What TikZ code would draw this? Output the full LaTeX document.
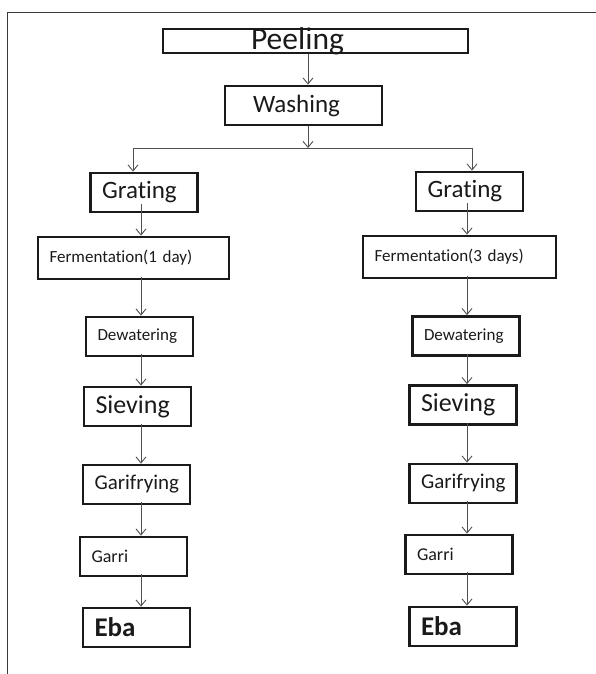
\documentclass[tikz,border=0pt]{standalone}
\usepackage{fontspec}
\setmainfont[Ligatures=NoCommon]{Carlito}
\usepackage{tikz}
\usetikzlibrary{arrows.meta,calc}
\definecolor{ink}{HTML}{1A1A1A}
\definecolor{inkgray}{HTML}{505050}
\definecolor{rulegray}{HTML}{3A3A3A}
\tikzset{
  stage/.style={
    draw=ink, line width=2.8pt, rectangle,
    inner xsep=11.5pt, inner ysep=0pt, minimum height=39pt,
    text width=84pt, align=left, text=ink,
    font=\fontsize{17}{19}\selectfont
  },
  flow/.style={draw=inkgray, line width=0.9pt, -{Straight Barb[length=6pt,width=10pt]}},
  link/.style={draw=inkgray, line width=0.9pt},
  frameline/.style={draw=rulegray, line width=1.3pt}
}

\begin{document}
\begin{tikzpicture}[x=1pt,y=-1pt]
  \useasboundingbox (0,0) rectangle (596,674);
  \draw[frameline] (596,12.5) -- (7.5,12.5) -- (7.5,674);

  % common trunk
  \node[draw=ink, line width=2.8pt, inner sep=0pt,
        minimum width=305pt, minimum height=24pt] (peel) at (315.5,41) {};
  \node[anchor=base, text=ink, font=\fontsize{31.5}{33}\selectfont] (peeltxt) at (297.5,50) {Peeling};
  \node[stage, text width=101pt, inner xsep=28pt, font=\fontsize{25}{27}\selectfont] (wash) at (303.5,105.5) {Washing};

  % left branch
  \node[stage, font=\fontsize{25}{27}\selectfont] (gratL) at (144,192.5) {Grating};
  \node[stage, text width=168pt, minimum height=42pt] (fermL) at (133.5,258) {Fermentation(1 day)};
  \node[stage] (dewL) at (139.5,336.5) {Dewatering};
  \node[stage, font=\fontsize{26}{28}\selectfont] (sievL) at (137.5,406.5) {Sieving};
  \node[stage, font=\fontsize{21}{23}\selectfont] (gariL) at (136.5,484.5) {Garifrying};
  \node[stage, font=\fontsize{18}{20}\selectfont] (garriL) at (133.5,556.5) {Garri};
  \node[stage, font=\bfseries\fontsize{27}{29}\selectfont] (ebaL) at (136.5,627.5) {Eba};

  % right branch
  \node[stage, font=\fontsize{25}{27}\selectfont] (gratR) at (469.5,191.5) {Grating};
  \node[stage, text width=170pt, minimum height=42pt] (fermR) at (459.5,257) {Fermentation(3 days)};
  \node[stage] (dewR) at (466,336) {Dewatering};
  \node[stage, font=\fontsize{26}{28}\selectfont] (sievR) at (463,405) {Sieving};
  \node[stage, font=\fontsize{21}{23}\selectfont] (gariR) at (463,483.5) {Garifrying};
  \node[stage, font=\fontsize{18}{20}\selectfont] (garriR) at (459,554.5) {Garri};
  \node[stage, font=\bfseries\fontsize{27}{29}\selectfont] (ebaR) at (463,626.5) {Eba};

  \coordinate (spineL) at (141,0);
  \coordinate (spineR) at (467,0);
  \coordinate (split) at (308,148);
  \coordinate (splitL) at (133,148);
  \coordinate (splitR) at (472,148);

  \draw[flow] (peel.south -| split) -- (wash.north -| split);
  \draw[flow] (wash.south -| split) -- (split);
  \draw[link] (splitL) -- (splitR);
  \draw[flow] (splitL) -- (gratL.north -| splitL);
  \draw[flow] (splitR) -- (gratR.north -| splitR);

  \foreach \side in {L,R}{
    \draw[flow] ($(grat\side.south -| spine\side)+(0,-9)$) -- (ferm\side.north -| spine\side);
    \foreach \a/\b in {ferm/dew, dew/siev, siev/gari, gari/garri, garri/eba}
      \draw[flow] ($(\a\side.south -| spine\side)+(0,-3)$) -- (\b\side.north -| spine\side);
  }
\end{tikzpicture}
\end{document}
